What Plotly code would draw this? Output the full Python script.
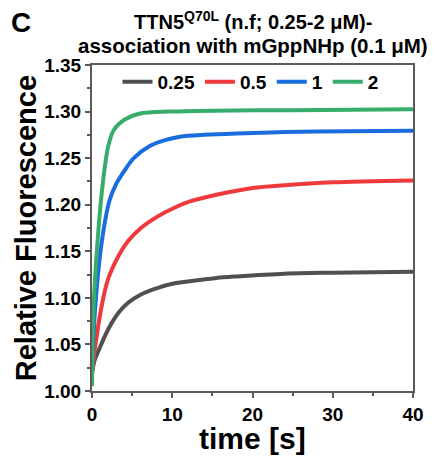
import plotly.graph_objects as go

# ---- data ----
series_names = ["0.25", "0.5", "1", "2"]
series_colors = ["#505050", "#f0393c", "#1a6ddf", "#36ad6a"]

t_025 = [0, 0.33, 1.0, 2.0, 3.3, 4.5, 6.1, 8.2, 10.2, 12.2, 15.5, 18, 24, 30, 40]
f_025 = [1.019, 1.033, 1.047, 1.066, 1.084, 1.0947, 1.1036, 1.1107, 1.1154, 1.1178, 1.1214, 1.123, 1.126, 1.127, 1.128]

t_05 = [0, 0.4, 1.2, 2.0, 3.3, 4.5, 6.1, 8.2, 10.2, 12.2, 15.5, 20, 24, 30, 40]
f_05 = [1.020, 1.048, 1.091, 1.120, 1.145, 1.161, 1.175, 1.1875, 1.1965, 1.2035, 1.2107, 1.218, 1.221, 1.224, 1.226]

t_1 = [0, 0.4, 1.2, 2.2, 3.0, 4.0, 5.2, 7.2, 9, 11, 14, 18, 24, 32, 40]
f_1 = [1.020, 1.090, 1.159, 1.205, 1.222, 1.236, 1.250, 1.263, 1.269, 1.273, 1.275, 1.2765, 1.278, 1.279, 1.2795]

t_2 = [0, 0.2, 0.8, 1.4, 2.0, 2.7, 4.0, 6.0, 9.7, 15, 25, 40]
f_2 = [1.005, 1.090, 1.173, 1.227, 1.262, 1.280, 1.291, 1.298, 1.300, 1.301, 1.3015, 1.3025]

times = [t_025, t_05, t_1, t_2]
values = [f_025, f_05, f_1, f_2]

x_ticks = [0, 10, 20, 30, 40]
y_ticks = [1.00, 1.05, 1.10, 1.15, 1.20, 1.25, 1.30, 1.35]
y_tick_labels = ["1.00", "1.05", "1.10", "1.15", "1.20", "1.25", "1.30", "1.35"]

FONT = "Liberation Sans, Arial, sans-serif"
AXC = "#5a5a5a"

fig = go.Figure()
for name, col, t, v in zip(series_names, series_colors, times, values):
    fig.add_trace(go.Scatter(x=t, y=v, mode="lines", name=name,
                             line=dict(color=col, width=4, shape="spline", smoothing=0.8)))

# page body has an 8px margin, so the figure is laid out 8px smaller
OFF = 8
W, H = 436 - OFF, 457 - OFF
L, T = 92 - OFF, 65 - OFF
R = W - (419 - OFF)
B = H - (391 - OFF)
pw = W - L - R
ph = H - T - B

def py(ypx):
    return (H - B - (ypx - OFF)) / ph

def px(xpx):
    return ((xpx - OFF) - L) / pw

fig.update_layout(
    width=W, height=H,
    margin=dict(l=L, r=R, t=T, b=B),
    paper_bgcolor="white", plot_bgcolor="white",
    font=dict(family=FONT, color="black"),
    showlegend=True,
    legend=dict(orientation="h", x=px(118), y=py(82), xanchor="left", yanchor="middle",
                font=dict(size=19, family=FONT, weight=700, color="black"),
                bgcolor="rgba(0,0,0,0)", itemwidth=30, tracegroupgap=0),
    xaxis=dict(range=[0, 40], tickvals=x_ticks, ticktext=[str(v) for v in x_ticks],
               showgrid=False, zeroline=False, showline=True, linecolor=AXC, linewidth=2,
               mirror=True, ticks="outside", ticklen=5, tickwidth=1.5, tickcolor=AXC,
               tickfont=dict(size=19, family=FONT, weight=700, color="black"),
               minor=dict(ticks="outside", ticklen=3, tickwidth=1.5, tickcolor=AXC, dtick=5, tick0=0)),
    yaxis=dict(range=[1.0, 1.35], tickvals=y_ticks, ticktext=y_tick_labels,
               showgrid=False, zeroline=False, showline=True, linecolor=AXC, linewidth=2,
               mirror=True, ticks="outside", ticklen=5, tickwidth=1.5, tickcolor=AXC,
               tickfont=dict(size=19, family=FONT, weight=700, color="black"),
               minor=dict(ticks="outside", ticklen=3, tickwidth=1.5, tickcolor=AXC, dtick=0.025, tick0=1.0)),
)

ann = [
    dict(text="C", x=px(20), y=py(22), xref="paper", yref="paper",
         xanchor="center", yanchor="middle", showarrow=False,
         font=dict(size=28, family=FONT, weight=700, color="black")),
    dict(text="TTN5<sup>Q70L</sup> (n.f; 0.25-2 μM)-", x=px(256), y=py(21), xref="paper", yref="paper",
         xanchor="center", yanchor="middle", showarrow=False,
         font=dict(size=20, family=FONT, weight=700, color="black")),
    dict(text="association with mGppNHp (0.1 μM)", x=px(256), y=py(46), xref="paper", yref="paper",
         xanchor="center", yanchor="middle", showarrow=False,
         font=dict(size=20.5, family=FONT, weight=700, color="black")),
    dict(text="time [s]", x=px(256), y=py(438), xref="paper", yref="paper",
         xanchor="center", yanchor="middle", showarrow=False,
         font=dict(size=30, family=FONT, weight=700, color="black")),
    dict(text="Relative Fluorescence", x=px(25), y=py(228), xref="paper", yref="paper",
         xanchor="center", yanchor="middle", showarrow=False, textangle=-90,
         font=dict(size=29, family=FONT, weight=700, color="black")),
]
fig.update_layout(annotations=ann)

fig.write_html("out.html")
